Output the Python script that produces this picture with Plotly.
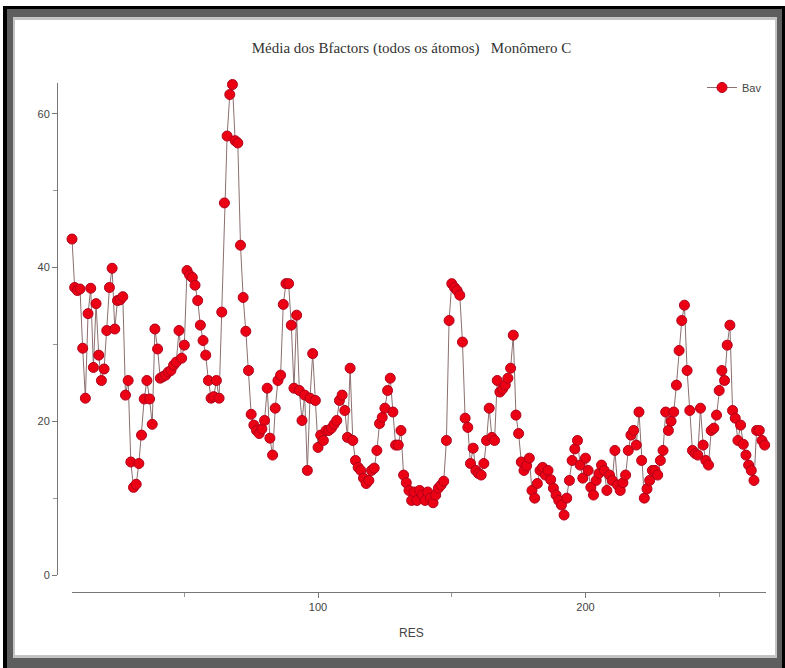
import plotly.graph_objects as go

# ---- data ----
bav = [
    43.7, 37.4, 37.0, 37.2, 29.5, 23.0, 34.0, 37.3, 27.0,
    35.3, 28.6, 25.3, 26.8, 31.8, 37.4, 39.9, 32.0, 35.7,
    35.8, 36.2, 23.4, 25.3, 14.7, 11.4, 11.8, 14.5, 18.2,
    22.9, 25.3, 22.9, 19.6, 32.0, 29.4, 25.6, 25.8, 26.0,
    26.4, 26.6, 27.3, 27.7, 31.8, 28.2, 29.9, 39.6, 39.0,
    38.7, 37.7, 35.7, 32.5, 30.5, 28.6, 25.3, 23.0, 23.2,
    25.3, 23.0, 34.2, 48.4, 57.1, 62.5, 63.8, 56.5, 56.2,
    42.9, 36.1, 31.7, 26.6, 20.9, 19.5, 18.8, 18.4, 19.0,
    20.1, 24.3, 17.8, 15.6, 21.7, 25.3, 26.0, 35.2, 37.9,
    37.9, 32.5, 24.3, 33.8, 24.0, 20.1, 23.4, 13.6, 23.0,
    28.8, 22.7, 16.6, 18.2, 17.5, 18.8, 18.8, 19.1, 19.6,
    20.1, 22.7, 23.4, 21.4, 17.9, 26.9, 17.5, 14.9, 14.0,
    13.6, 12.6, 11.9, 12.3, 13.6, 13.9, 16.2, 19.7, 20.5,
    21.7, 24.0, 25.6, 21.2, 16.9, 16.9, 18.8, 13.0, 12.0,
    11.0, 9.7, 10.8, 9.7, 11.0, 10.4, 9.7, 10.8, 10.0,
    9.4, 10.4, 11.3, 11.7, 12.2, 17.5, 33.1, 37.9, 37.4,
    37.0, 36.4, 30.3, 20.4, 19.2, 14.5, 16.5, 13.6, 13.2,
    13.0, 14.5, 17.5, 21.7, 17.9, 17.5, 25.3, 23.8, 24.2,
    24.7, 25.6, 26.9, 31.2, 20.8, 18.4, 14.7, 13.6, 14.2,
    15.2, 11.0, 10.0, 11.9, 13.6, 14.0, 13.0, 13.6, 12.4,
    11.3, 10.4, 9.7, 9.1, 7.8, 10.0, 12.3, 14.9, 16.4,
    17.5, 14.3, 12.6, 15.2, 13.6, 11.4, 10.4, 12.3, 13.2,
    14.3, 13.6, 11.0, 13.0, 12.3, 16.2, 11.7, 11.0, 12.0,
    13.0, 16.2, 18.2, 18.8, 16.9, 21.2, 14.9, 10.0, 11.2,
    12.3, 13.6, 13.6, 13.0, 14.9, 16.2, 21.2, 18.8, 20.0,
    21.2, 24.7, 29.2, 33.1, 35.1, 26.6, 21.4, 16.2, 15.8,
    15.6, 21.7, 16.9, 14.9, 14.3, 18.8, 19.1, 20.8, 24.0,
    26.6, 25.3, 29.9, 32.5, 21.4, 20.4, 17.5, 19.5, 17.0,
    15.6, 14.3, 13.6, 12.3, 18.8, 18.8, 17.5, 16.9,
]
first_res = 8
res = list(range(first_res, first_res + len(bav)))

title_text = "Média dos Bfactors (todos os átomos)   Monômero C"
series_name = "Bav"
x_label = "RES"

# ---- layout geometry (pixels) ----
W, H = 785, 668
PL, PR, PT, PB = 57, 766, 83, 592   # paper box
def px(x):
    return (x - PL) / (PR - PL)
def py(y):
    return (PB - y) / (PB - PT)

fig = go.Figure()
fig.add_trace(go.Scatter(
    x=res, y=bav, mode="lines+markers", name=series_name,
    line=dict(color="#8c6f6f", width=1),
    marker=dict(size=10, color="#ec0014", line=dict(color="#b0001a", width=1)),
    cliponaxis=False,
))

shapes = []
def rect(x0, y0, x1, y1, color):
    shapes.append(dict(type="rect", xref="paper", yref="paper",
                       x0=px(x0), x1=px(x1), y0=py(y1), y1=py(y0),
                       fillcolor=color, line=dict(width=0), layer="below"))
rect(3, 6, 786, 669, "#000000")
rect(7, 9, 782, 669, "#5e5e5e")
rect(13, 17, 777, 658, "#c4c4c4")
rect(15, 20, 775, 655, "#ffffff")

fig.update_layout(
    width=W, height=H,
    margin=dict(l=PL, r=W - PR, t=PT, b=H - PB, pad=0),
    paper_bgcolor="white", plot_bgcolor="rgba(0,0,0,0)",
    shapes=shapes,
    title=dict(text=title_text, x=0.5, xref="paper", xanchor="center",
               y=1 - 48 / H, yref="container", yanchor="middle",
               font=dict(family="Liberation Serif", size=15, color="#333333")),
    showlegend=True,
    legend=dict(x=px(702), y=py(73), xanchor="left", yanchor="top",
                bgcolor="rgba(0,0,0,0)", itemwidth=30,
                font=dict(family="Liberation Sans", size=11, color="#444444")),
    xaxis=dict(domain=[px(72), 1], range=[first_res, first_res + len(bav) - 0.5],
               anchor="free", position=0,
               showgrid=False, zeroline=False,
               showline=True, linecolor="#777777", linewidth=1,
               tickmode="linear", tick0=0, dtick=100,
               ticks="outside", ticklen=5, tickcolor="#777777",
               minor=dict(dtick=50, tick0=0, ticks="outside", ticklen=4, tickcolor="#999999"),
               tickfont=dict(family="Liberation Sans", size=11, color="#444444")),
    yaxis=dict(domain=[py(575), 1], range=[0, 64],
               anchor="free", position=0,
               showgrid=False, zeroline=False,
               showline=True, linecolor="#777777", linewidth=1,
               tickmode="linear", tick0=0, dtick=20,
               ticks="outside", ticklen=5, tickcolor="#777777",
               minor=dict(dtick=10, tick0=0, ticks="outside", ticklen=4, tickcolor="#999999"),
               tickfont=dict(family="Liberation Sans", size=11, color="#444444")),
    annotations=[dict(text=x_label, xref="paper", yref="paper", x=0.5, y=py(633),
                      xanchor="center", yanchor="middle", showarrow=False,
                      font=dict(family="Liberation Sans", size=12, color="#444444"))],
)

fig.write_html("out.html")
